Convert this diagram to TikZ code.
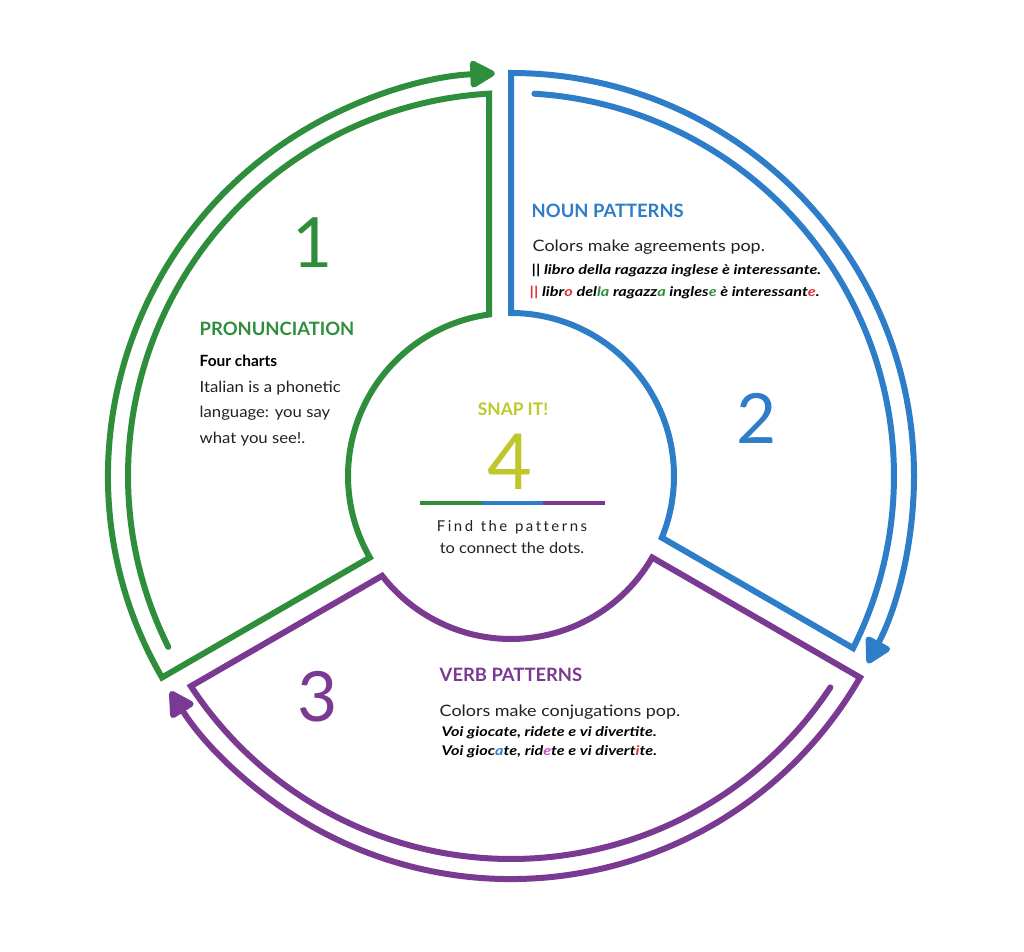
\documentclass[tikz,border=0pt]{standalone}
\usepackage{fontspec}
\setmainfont{Lato}
\usetikzlibrary{calc,arrows.meta}
\definecolor{cg}{HTML}{2F8E3C}
\definecolor{cb}{HTML}{2E7DC8}
\definecolor{cp}{HTML}{7B3A91}
\definecolor{cl}{HTML}{BEC82A}
\definecolor{cr}{HTML}{E53030}
\definecolor{cm}{HTML}{C84FBF}
\definecolor{tx}{HTML}{222222}
\tikzset{
  sec/.style={draw=#1, line width=4.5pt, line join=miter, line cap=round,
     -{Triangle[length=21pt,width=22pt,round=false]}},
  num/.style={font=\fontsize{52}{52}\selectfont, anchor=center},
  head/.style={font=\fontsize{13.8}{14}\selectfont\bfseries, anchor=base west},
  body/.style={font=\fontsize{11.6}{13}\selectfont\addfontfeatures{FakeStretch=1.08}, text=tx, anchor=base west},
  body2/.style={font=\fontsize{11.8}{13}\selectfont\addfontfeatures{FakeStretch=1.14}, text=tx, anchor=base west},
  ex/.style={font=\fontsize{10}{11}\selectfont\bfseries\itshape\addfontfeatures{FakeStretch=1.22}, text=black, anchor=base west},
}
\newcommand{\mysector}[2]{%
  \draw[sec=#1] ($(C)+(#2+116.5:383)$) arc[start angle=#2+116.5, end angle=#2+3.29, radius=383]
     -- ($(C)+(#2+7.76:163)$) arc[start angle=#2+7.76, end angle=#2+120, radius=163]
     -- ($(C)+(#2+120:403)$) arc[start angle=#2+120, end angle=#2+2.3, radius=403];
}
\begin{document}
\begin{tikzpicture}[x=0.75pt,y=0.75pt]
\useasboundingbox[fill=white] (0,0) rectangle (1024,951);
\coordinate (C) at (511,475);
\mysector{cg}{90}
\mysector{cb}{-30}
\mysector{cp}{210}

% sector 1
\node[num, text=cg] (n1) at (313,708) {1};
\node[head, text=cg] (h1) at (195,615) {PRONUNCIATION};
\node[body, font=\fontsize{11.6}{13}\selectfont\bfseries, text=black] (b1a) at (195,584) {Four charts};
\node[body] (b1b) at (195,558) {Italian is a phonetic};
\node[body] (b1c) at (195,533) {language: you say};
\node[body] (b1d) at (195,508) {what you see!.};

% sector 2
\node[num, text=cb] (n2) at (757,533) {2};
\node[head, text=cb] (h2) at (527,733) {NOUN PATTERNS};
\node[body2] (b2a) at (528,699) {Colors make agreements pop.};
\node[ex] (b2b) at (527,676) {|| libro della ragazza inglese è interessante.};
\node[ex] (b2c) at (525,654) {\textcolor{cr}{||} libr\textcolor{cr}{o} del\textcolor{cg}{la} ragazz\textcolor{cg}{a} ingles\textcolor{cg}{e} è interessant\textcolor{cr}{e}.};

% sector 3
\node[num, text=cp] (n3) at (318,254) {3};
\node[head, text=cp] (h3) at (435,270) {VERB PATTERNS};
\node[body2] (b3a) at (435,235) {Colors make conjugations pop.};
\node[ex] (b3b) at (437,215) {Voi giocate, ridete e vi divertite.};
\node[ex] (b3c) at (437,196) {Voi gioc\textcolor{cb}{a}te, rid\textcolor{cm}{e}te e vi divert\textcolor{cr}{i}te.};

% centre
\node[font=\fontsize{13}{14}\selectfont\bfseries, text=cl, anchor=base] (snap) at (513,536) {SNAP IT!};
\node[num, font=\fontsize{58}{58}\selectfont, text=cl] (n4) at (510,489) {4};
\coordinate (l0) at (420,448);
\coordinate (l1) at (482,448);
\coordinate (l2) at (543,448);
\coordinate (l3) at (605,448);
\draw[cg, line width=2.6pt] (l0) -- (l1);
\draw[cb, line width=2.6pt] (l1) -- (l2);
\draw[cp, line width=2.6pt] (l2) -- (l3);
\node[font=\fontsize{11.2}{13}\selectfont, text=tx, anchor=base] (f1) at (512,420) {F\,i\,n\,d\ \ t\,h\,e\ \ p\,a\,t\,t\,e\,r\,n\,s};
\node[font=\fontsize{11.4}{13}\selectfont\addfontfeatures{FakeStretch=1.08}, text=tx, anchor=base] (f2) at (512,398) {to connect the dots.};
\end{tikzpicture}
\end{document}
